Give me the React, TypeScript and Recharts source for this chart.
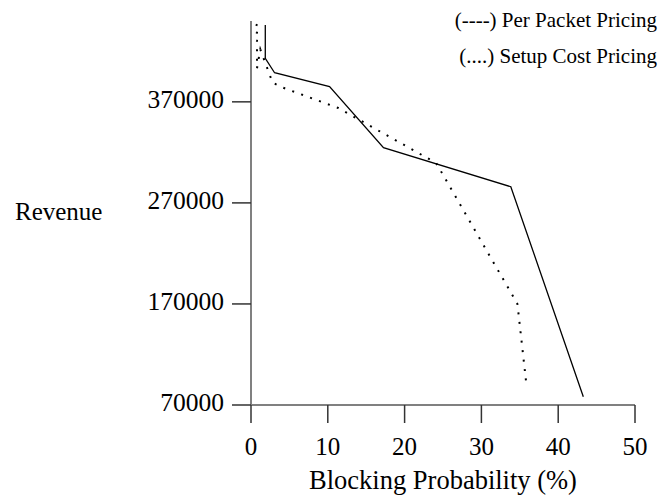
import { Line, LineChart, XAxis, YAxis } from "recharts"

// Per Packet Pricing (solid)
const perPacketBlocking = [1.86, 1.86, 3.07, 10.23, 17.25, 33.83, 43.27];
const perPacketRevenue = [446000, 413000, 398800, 385000, 324600, 286000, 78200];

// Setup Cost Pricing (dotted)
const setupBlocking = [0.78, 0.43, 0.78, 0.56, 0.78, 0.78, 1.21, 2.81, 4.03, 11.36, 24.11, 34.69, 35.88];
const setupRevenue = [447000, 440400, 438400, 431200, 430500, 403200, 421900, 389000, 384400, 363900, 309500, 170000, 88800];

const xTicks = [0, 10, 20, 30, 40, 50];
const yTicks = [70000, 170000, 270000, 370000];
const legendLines = ["(----) Per Packet Pricing", "(....) Setup Cost Pricing"];

const perPacketData = perPacketBlocking.map((x, i) => ({ x, y: perPacketRevenue[i] }));
const setupData = setupBlocking.map((x, i) => ({ x, y: setupRevenue[i] }));

const FONT = '"Liberation Serif", "Times New Roman", serif';

const XTick = (props: any) => {
  const { x, y, payload } = props;
  return (
    <text x={x} y={y + 32} textAnchor="middle" fontSize={25} fontFamily={FONT} fill="#000">
      {payload.value}
    </text>
  );
};

const YTick = (props: any) => {
  const { x, y, payload } = props;
  return (
    <text x={x} y={y + 6} textAnchor="end" fontSize={25.5} fontFamily={FONT} fill="#000">
      {payload.value}
    </text>
  );
};

export default function App() {
  return (
    <div style={{ position: "absolute", left: 0, top: 0, width: 659, height: 500, background: "#fff" }}>
      <LineChart
        width={659}
        height={500}
        margin={{ top: 21, right: 24, left: 0, bottom: 0 }}
      >
        <XAxis
          type="number"
          dataKey="x"
          domain={[0, 50]}
          ticks={xTicks}
          allowDataOverflow
          height={95}
          tickSize={18}
          tickMargin={0}
          axisLine={{ stroke: "#808080", strokeWidth: 2 }}
          tickLine={{ stroke: "#333", strokeWidth: 1.5 }}
          tick={<XTick />}
          label={{
            value: "Blocking Probability (%)",
            position: "insideBottom",
            offset: 11,
            fontSize: 26.5,
            fontFamily: FONT,
            fill: "#000",
          }}
        />
        <YAxis
          type="number"
          dataKey="y"
          domain={[70000, 450000]}
          ticks={yTicks}
          allowDataOverflow
          width={251}
          tickSize={19}
          tickMargin={8}
          axisLine={{ stroke: "#808080", strokeWidth: 2 }}
          tickLine={{ stroke: "#333", strokeWidth: 1.5 }}
          tick={<YTick />}
          label={{
            value: "Revenue",
            position: "insideLeft",
            offset: 15,
            fontSize: 25,
            fontFamily: FONT,
            fill: "#000",
            dy: -2,
          }}
        />
        <Line
          data={perPacketData}
          dataKey="y"
          stroke="#000"
          strokeWidth={1.3}
          dot={false}
          activeDot={false}
          isAnimationActive={false}
        />
        <Line
          data={setupData}
          dataKey="y"
          stroke="#000"
          strokeWidth={2}
          strokeDasharray="2 7.5"
          dot={false}
          activeDot={false}
          isAnimationActive={false}
        />
      </LineChart>
      <div
        style={{
          position: "absolute",
          top: 2,
          right: 2,
          textAlign: "right",
          fontFamily: FONT,
          fontSize: 21,
          lineHeight: "36px",
          color: "#000",
        }}
      >
        {legendLines.map((t) => (
          <div key={t}>{t}</div>
        ))}
      </div>
    </div>
  );
}
